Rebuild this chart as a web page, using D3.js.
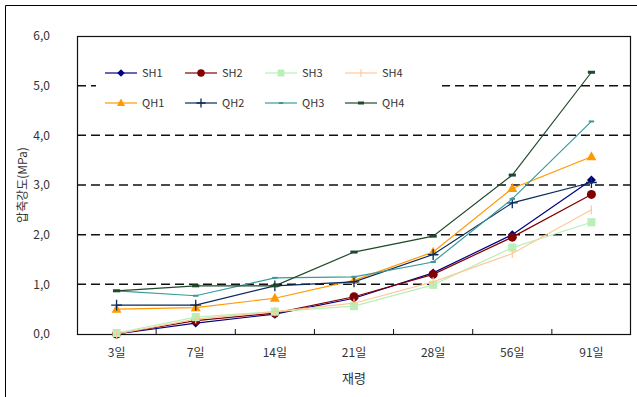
<!DOCTYPE html>
<html>
<head>
<meta charset="utf-8">
<script src="https://cdn.jsdelivr.net/npm/d3@7"></script>
<style>
  body { margin: 0; background: #fff; }
  text { font-family: "Noto Sans CJK KR", "Noto Sans", sans-serif; fill: #222; }
</style>
</head>
<body>
<div id="container"></div>
<script>
/* CONSTANTS AND GLOBALS */
const width = 637,
  height = 397,
  margin = { top: 36, bottom: 63, left: 77, right: 6 };

// categories (재령) and y ticks
const ages = ["3일", "7일", "14일", "21일", "28일", "56일", "91일"];
const yTicks = [0, 1, 2, 3, 4, 5, 6];

// series values (MPa)
const SH1 = [0.00, 0.22, 0.40, 0.72, 1.23, 2.00, 3.10];
const SH2 = [0.00, 0.27, 0.42, 0.75, 1.20, 1.95, 2.81];
const SH3 = [0.02, 0.34, 0.45, 0.56, 0.99, 1.74, 2.25];
const SH4 = [0.00, 0.30, 0.45, 0.62, 1.05, 1.62, 2.50];
const QH1 = [0.50, 0.53, 0.72, 1.08, 1.65, 2.93, 3.57];
const QH2 = [0.58, 0.58, 0.97, 1.05, 1.60, 2.64, 3.05];
const QH3 = [0.87, 0.77, 1.13, 1.15, 1.45, 2.72, 4.28];
const QH4 = [0.87, 0.97, 0.97, 1.65, 1.97, 3.20, 5.27];

const seriesNames = ["SH1", "SH2", "SH3", "SH4", "QH1", "QH2", "QH3", "QH4"];
const seriesValues = [SH1, SH2, SH3, SH4, QH1, QH2, QH3, QH4];
const seriesColors = ["#000080", "#800000", "#b8f0b8", "#ffc898", "#ff9900", "#0a2a5a", "#3a9a9a", "#1f4a2a"];
const seriesMarkers = ["diamond", "circle", "square", "vtick", "triangle", "plus", "dash", "bar"];

const series = seriesNames.map((name, i) => ({
  name: name,
  color: seriesColors[i],
  marker: seriesMarkers[i],
  values: seriesValues[i].map((v, j) => ({ age: ages[j], value: v }))
}));

const svg = d3.select("#container")
  .append("svg")
  .attr("width", width)
  .attr("height", height);

// outer border (only top and left show in the picture)
svg.append("path")
  .attr("d", `M5.5,${height}V5.5H${width}`)
  .attr("fill", "none").attr("stroke", "#000").attr("stroke-width", 1);

/* SCALES */
const xScale = d3.scaleBand()
  .domain(ages)
  .range([margin.left, width - margin.right]);

const yScale = d3.scaleLinear()
  .domain([0, 6])
  .range([height - margin.bottom, margin.top]);

const x = d => xScale(d) + xScale.bandwidth() / 2;

// dashed grid lines
svg.append("g")
  .selectAll("line")
  .data(yTicks.filter(t => t > 0 && t < 6))
  .join("line")
  .attr("x1", margin.left)
  .attr("x2", width - margin.right)
  .attr("y1", d => yScale(d))
  .attr("y2", d => yScale(d))
  .attr("stroke", "#111")
  .attr("stroke-width", 1.5)
  .attr("stroke-dasharray", "9,5");

// plot frame
svg.append("rect")
  .attr("x", margin.left + 0.5)
  .attr("y", margin.top + 0.5)
  .attr("width", width - margin.right - margin.left - 1)
  .attr("height", height - margin.bottom - margin.top)
  .attr("fill", "none")
  .attr("stroke", "#111")
  .attr("stroke-width", 1.2);

/* AXES */
const yAxis = d3.axisLeft(yScale)
  .tickValues(yTicks)
  .tickSize(0)
  .tickPadding(27)
  .tickFormat(d => d3.format(".1f")(d).replace(".", ","));

svg.append("g")
  .attr("transform", `translate(${margin.left}, 0)`)
  .call(yAxis)
  .call(g => g.select(".domain").remove())
  .selectAll("text")
  .style("font-size", "12px")
  .style("fill", "#333");

const xAxis = d3.axisBottom(xScale).tickSize(0).tickPadding(14);

svg.append("g")
  .attr("transform", `translate(0, ${height - margin.bottom})`)
  .call(xAxis)
  .call(g => g.select(".domain").remove())
  .selectAll("text")
  .style("font-size", "12px")
  .style("fill", "#333");

// small inward ticks at band boundaries
svg.append("g")
  .selectAll("line")
  .data(ages.slice(1))
  .join("line")
  .attr("x1", d => xScale(d))
  .attr("x2", d => xScale(d))
  .attr("y1", height - margin.bottom)
  .attr("y2", height - margin.bottom - 5)
  .attr("stroke", "#111");

// axis titles
svg.append("text")
  .attr("x", (margin.left + width - margin.right) / 2)
  .attr("y", 383)
  .attr("text-anchor", "middle")
  .style("font-size", "13px")
  .style("fill", "#333")
  .text("재령");

svg.append("text")
  .attr("transform", `translate(27, ${(margin.top + height - margin.bottom) / 2}) rotate(-90)`)
  .attr("text-anchor", "middle")
  .style("font-size", "12px")
  .style("fill", "#333")
  .text("압축강도(MPa)");

/* MARKERS */
function drawMarker(g, type, color, k) {
  k = k || 1;
  if (type === "diamond") {
    g.append("path").attr("d", `M0,${-5 * k}L${5 * k},0L0,${5 * k}L${-5 * k},0Z`).attr("fill", color);
  } else if (type === "circle") {
    g.append("circle").attr("r", 5 * k).attr("fill", color);
  } else if (type === "square") {
    g.append("rect").attr("x", -4.5 * k).attr("y", -4.5 * k).attr("width", 9 * k).attr("height", 9 * k).attr("fill", color);
  } else if (type === "vtick") {
    g.append("line").attr("y1", -5 * k).attr("y2", 5 * k).attr("stroke", color).attr("stroke-width", 1.2);
  } else if (type === "triangle") {
    g.append("path").attr("d", `M0,${-6 * k}L${5.5 * k},${4 * k}L${-5.5 * k},${4 * k}Z`).attr("fill", color);
  } else if (type === "plus") {
    g.append("path").attr("d", `M${-6 * k},0H${6 * k}M0,${-6 * k}V${6 * k}`).attr("stroke", color).attr("stroke-width", 1.3);
  } else if (type === "dash") {
    g.append("line").attr("x1", -3 * k).attr("x2", 3 * k).attr("stroke", color).attr("stroke-width", 2);
  } else if (type === "bar") {
    g.append("rect").attr("x", -4 * k).attr("y", -1.5).attr("width", 8 * k).attr("height", 3).attr("fill", color);
  }
}

/* LINES */
const line = d3.line()
  .x(d => x(d.age))
  .y(d => yScale(d.value));

const seriesG = svg.append("g")
  .selectAll("g")
  .data(series)
  .join("g");

seriesG.append("path")
  .attr("d", d => line(d.values))
  .attr("fill", "none")
  .attr("stroke", d => d.color)
  .attr("stroke-width", 1.2);

seriesG.each(function (s) {
  d3.select(this).selectAll("g.pt")
    .data(s.values)
    .join("g")
    .attr("class", "pt")
    .attr("transform", d => `translate(${x(d.age)}, ${yScale(d.value)})`)
    .each(function () { drawMarker(d3.select(this), s.marker, s.color, 0.9); });
});

/* LEGEND */
const legend = svg.append("g").attr("transform", "translate(96, 60)");
legend.append("rect")
  .attr("width", 346).attr("height", 56)
  .attr("fill", "#fff");

const legendItems = legend.selectAll("g.item")
  .data(series)
  .join("g")
  .attr("class", "item")
  .attr("transform", (d, i) => `translate(${9 + (i % 4) * 80}, ${i < 4 ? 13 : 43})`);

legendItems.append("line")
  .attr("x1", 0).attr("x2", 32)
  .attr("stroke", d => d.color)
  .attr("stroke-width", 1.2);

legendItems.append("g")
  .attr("transform", "translate(16, 0)")
  .each(function (d) { drawMarker(d3.select(this), d.marker, d.color, 0.75); });

legendItems.append("text")
  .attr("x", 37)
  .attr("dy", "0.35em")
  .style("font-size", "11px")
  .style("fill", "#333")
  .text(d => d.name);
</script>
</body>
</html>
